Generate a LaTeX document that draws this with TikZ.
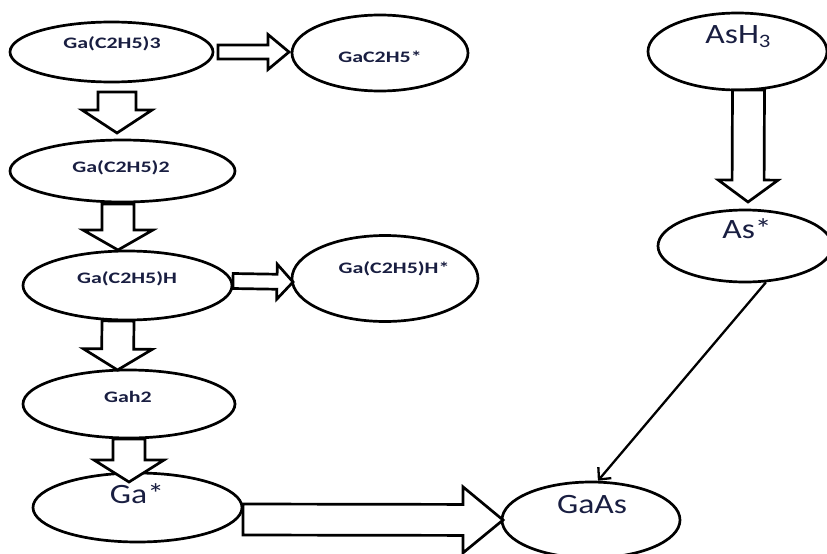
\documentclass[tikz,border=0pt]{standalone}
\usepackage{fontspec}
\setmainfont{Carlito}
\newfontfamily\smallf[FakeStretch=1.37]{Carlito}
\newfontfamily\largef[FakeStretch=1.2]{Carlito}
\usetikzlibrary{shapes.geometric,calc,arrows.meta}
\definecolor{txt}{RGB}{25,30,65}
\tikzset{
 ell/.style={ellipse, draw=black, line width=2.7pt, inner sep=0pt},
 smalltxt/.style={anchor=base, text=txt, font=\smallf\bfseries\fontsize{16}{18}\selectfont, inner sep=0pt},
 largetxt/.style={anchor=base, text=txt, font=\largef\fontsize{28}{30}\selectfont, inner sep=0pt},
 blockarrow/.style={draw=black, fill=white, line width=2.7pt, line join=miter},
 thinarrow/.style={draw=black, line width=2.3pt, -{Straight Barb[length=9pt,width=17pt,line width=2.3pt]}}
}
% #1 start, #2 tip, #3 half shaft, #4 half head, #5 head length, #6 name
\newcommand{\blockarr}[6]{%
 \coordinate (#6h) at ($(#2)!#5!(#1)$);
 \draw[blockarrow] ($(#1)!#3!90:(#2)$) -- ($(#6h)!#3!90:(#2)$) -- ($(#6h)!#4!90:(#2)$)
   -- (#2) -- ($(#6h)!#4!-90:(#2)$) -- ($(#6h)!#3!-90:(#2)$) -- ($(#1)!#3!-90:(#2)$) -- cycle;}
\begin{document}
\begin{tikzpicture}[x=1pt,y=-1pt]
\useasboundingbox (0,0) rectangle (827,554);
% ellipses
\node[ell, minimum width=203pt, minimum height=60pt] (e1) at (111.5,52) {};
\node[ell, minimum width=176pt, minimum height=76pt] (e2) at (380,53) {};
\node[ell, minimum width=225pt, minimum height=62pt] (e3) at (122.5,171) {};
\node[ell, minimum width=209pt, minimum height=69pt] (e4) at (127.5,285.5) {};
\node[ell, minimum width=186pt, minimum height=86pt] (e5) at (385,278.5) {};
\node[ell, minimum width=212pt, minimum height=68pt] (e6) at (129,404) {};
\node[ell, minimum width=209pt, minimum height=69pt] (e7) at (137.5,507.5) {};
\node[ell, minimum width=179pt, minimum height=77pt] (e8) at (737.5,51.5) {};
\node[ell, minimum width=174pt, minimum height=72pt] (e9) at (745,246) {};
\node[ell, minimum width=178pt, minimum height=76pt] (e10) at (591,520) {};
% texts
\node[smalltxt] (t1) at (112,48) {Ga(C2H5)3};
\node[smalltxt] (t2) at (380,62) {GaC2H5*};
\node[smalltxt] (t3) at (121,172) {Ga(C2H5)2};
\node[smalltxt] (t4) at (127,283) {Ga(C2H5)H};
\node[smalltxt] (t5) at (394,273) {Ga(C2H5)H*};
\node[smalltxt] (t6) at (128,402) {Gah2};
\node[largetxt] (t7) at (137,503) {Ga*};
\node[largetxt] (t8) at (738,43) {AsH\raisebox{-4pt}{\fontsize{19}{19}\selectfont 3}};
\node[largetxt] (t9) at (747,238) {As*};
\node[largetxt] (t10) at (592,513) {GaAs};
% arrow end points
\coordinate (a1s) at (218,52);   \coordinate (a1e) at (289,52);
\coordinate (a2s) at (117,92);   \coordinate (a2e) at (117,133);
\coordinate (a3s) at (118,204);  \coordinate (a3e) at (118,250);
\coordinate (a4s) at (118,321);  \coordinate (a4e) at (117.5,370);
\coordinate (a5s) at (129,439);  \coordinate (a5e) at (129,482);
\coordinate (a6s) at (233,281);  \coordinate (a6e) at (293,282);
\coordinate (a7s) at (243,519.5);\coordinate (a7e) at (503,520);
\coordinate (a8s) at (748.5,90); \coordinate (a8e) at (748,202);
% block arrows
\blockarr{a1s}{a1e}{7pt}{17.5pt}{21pt}{a1}
\blockarr{a2s}{a2e}{19pt}{35pt}{23pt}{a2}
\blockarr{a3s}{a3e}{16pt}{35pt}{20pt}{a3}
\blockarr{a4s}{a4e}{16pt}{34.5pt}{21pt}{a4}
\blockarr{a5s}{a5e}{16pt}{35pt}{22pt}{a5}
\blockarr{a6s}{a6e}{7.5pt}{17.5pt}{16pt}{a6}
\blockarr{a7s}{a7e}{15.5pt}{33pt}{40pt}{a7}
\blockarr{a8s}{a8e}{16pt}{30pt}{22pt}{a8}
% thin arrow
\draw[thinarrow] (e9.300) -- (e10.80);
\end{tikzpicture}
\end{document}
